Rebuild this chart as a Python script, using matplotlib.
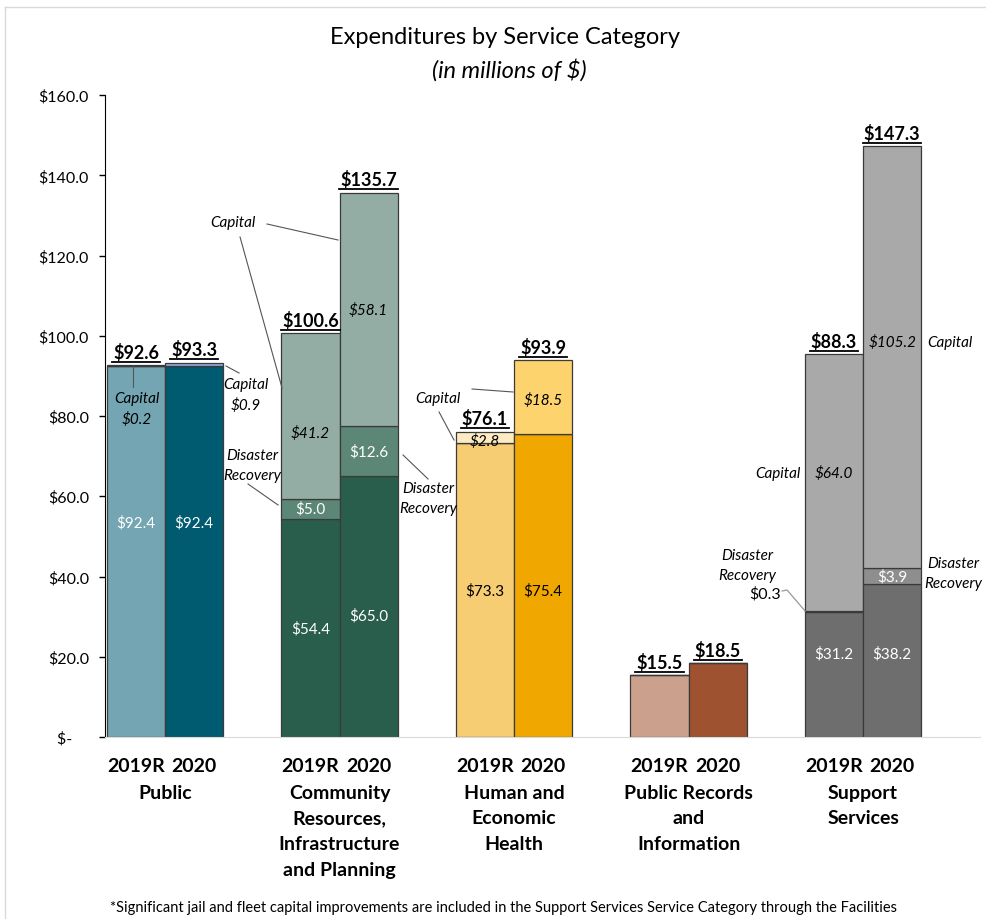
import matplotlib.pyplot as plt
import numpy as np
from matplotlib.lines import Line2D

plt.rcParams['font.family'] = ['Lato', 'DejaVu Sans']

# data (millions of $)
groups = ['Public', 'Community\nResources,\nInfrastructure\nand Planning',
          'Human and\nEconomic\nHealth', 'Public Records\nand\nInformation',
          'Support\nServices']
years = ['2019R', '2020']
base_19 = [92.4, 54.4, 73.3, 15.5, 31.2]
dr_19 = [0.0, 5.0, 0.0, 0.0, 0.3]
cap_19 = [0.2, 41.2, 2.8, 0.0, 64.0]
base_20 = [92.4, 65.0, 75.4, 18.5, 38.2]
dr_20 = [0.0, 12.6, 0.0, 0.0, 3.9]
cap_20 = [0.9, 58.1, 18.5, 0.0, 105.2]
totals_19 = ['$92.6', '$100.6', '$76.1', '$15.5', '$88.3']
totals_20 = ['$93.3', '$135.7', '$93.9', '$18.5', '$147.3']

base_col_19 = ['#74A5B3', '#2A5E4C', '#F6CD72', '#CBA18D', '#6E6E6E']
base_col_20 = ['#005A70', '#2A5E4C', '#F0A800', '#9E5230', '#6E6E6E']
dr_col = ['#5C8777', '#5C8777', '#5C8777', '#5C8777', '#8E8E8E']
cap_col_19 = ['#74A5B3', '#93ADA4', '#FDEBC2', '#CBA18D', '#A9A9A9']
cap_col_20 = ['#8EA9DB', '#93ADA4', '#FDD36E', '#9E5230', '#A9A9A9']
base_txt = ['white', 'white', 'black', None, 'white']

fig = plt.figure(figsize=(9.86, 9.2), dpi=100)
ax = fig.add_axes([105/986, 182/920, 875/986, 642/920])

x = np.arange(len(groups))
w = 1/3
edge = dict(edgecolor='#3a3a3a', linewidth=0.9)
x19 = x - w/2
x20 = x + w/2
b19 = np.array(base_19); d19 = np.array(dr_19); c19 = np.array(cap_19)
b20 = np.array(base_20); d20 = np.array(dr_20); c20 = np.array(cap_20)

ax.bar(x19, b19, w, color=base_col_19, **edge)
ax.bar(x19, d19, w, bottom=b19, color=dr_col, **edge)
ax.bar(x19, c19, w, bottom=b19 + d19, color=cap_col_19, **edge)
ax.bar(x20, b20, w, color=base_col_20, **edge)
ax.bar(x20, d20, w, bottom=b20, color=dr_col, **edge)
ax.bar(x20, c20, w, bottom=b20 + d20, color=cap_col_20, **edge)

ax.set_xlim(-0.344, 4.67)
ax.set_ylim(0, 160)
ax.set_yticks(np.arange(0, 161, 20))
ax.set_yticklabels(['$-    '] + ['$%.1f' % v for v in np.arange(20, 161, 20)], fontsize=11.5)
ax.tick_params(axis='y', length=4, width=1, pad=7.5)
ax.set_xticks([])
for s in ['top', 'right']:
    ax.spines[s].set_visible(False)
ax.spines['bottom'].set_color('#D9D9D9')
ax.spines['left'].set_color('black')

# category labels
for i, g in enumerate(groups):
    ax.text(x19[i], -5.0, years[0], ha='center', va='top', fontsize=14, fontweight='bold')
    ax.text(x20[i], -5.0, years[1], ha='center', va='top', fontsize=14, fontweight='bold')
    ax.text(x[i], -11.6, g, ha='center', va='top', fontsize=14, fontweight='bold',
            linespacing=1.62)

# value labels inside bars
def lab(xx, y, s, color='black', italic=False, size=11):
    ax.text(xx, y, s, ha='center', va='center', color=color, fontsize=size,
            style='italic' if italic else 'normal')

base_y19 = [53.6, b19[1]/2, b19[2]/2, None, 20.9]
base_y20 = [53.6, 30.4, 36.6, None, 20.9]
for i in range(len(groups)):
    if base_txt[i]:
        lab(x19[i], base_y19[i], '$%.1f' % b19[i], base_txt[i])
        lab(x20[i], base_y20[i], '$%.1f' % b20[i], base_txt[i])
lab(x19[1], b19[1] + d19[1]/2, '$%.1f' % d19[1], 'white')
lab(x20[1], b20[1] + d20[1]/2, '$%.1f' % d20[1], 'white')
lab(x20[4], b20[4] + d20[4]/2, '$%.1f' % d20[4], 'white')
lab(x19[1], 76.0, '$%.1f' % c19[1], italic=True)
lab(x20[1], b20[1] + d20[1] + c20[1]/2, '$%.1f' % c20[1], italic=True)
lab(x19[2], 74.0, '$%.1f' % c19[2], italic=True)
lab(x20[2], 84.0, '$%.1f' % c20[2], italic=True)
lab(x19[4], 65.8, '$%.1f' % c19[4], italic=True)
lab(x20[4], 98.6, '$%.1f' % c20[4], italic=True)

# totals
tot_texts = []
tops19 = b19 + d19 + c19
tops20 = b20 + d20 + c20
for i in range(len(groups)):
    for xx, top, s in [(x19[i], tops19[i], totals_19[i]), (x20[i], tops20[i], totals_20[i])]:
        t = ax.annotate(s, (xx, top), xytext=(0, 3), textcoords='offset points',
                        ha='center', va='bottom', fontsize=13, fontweight='bold')
        tot_texts.append(t)

# annotations
it = dict(fontsize=11, style='italic', ha='center', va='center', linespacing=1.5)
lc = dict(color='#555555', linewidth=0.8)
def px(p):
    return (p - 165) / 174.5
def py(p):
    return (738 - p) / 4.0125

ax.text(px(137), py(409), 'Capital\n$0.2', **it)
ax.plot([px(133), px(133)], [py(367), py(388)], **lc)
ax.text(px(246), py(395), 'Capital\n$0.9', **it)
ax.plot([px(226), px(239)], [py(367), py(374)], **lc)

ax.text(px(233), py(223), 'Capital', **it)
ax.plot([px(267), px(338)], [py(225), py(241)], **lc)
ax.plot([px(240), px(282)], [py(238), py(389)], **lc)
ax.text(px(252), py(466), 'Disaster\nRecovery', **it)
ax.plot([px(248), px(278)], [py(485), py(506)], **lc)
ax.text(px(428), py(499), 'Disaster\nRecovery', **it)
ax.plot([px(403), px(428)], [py(456), py(480)], **lc)

ax.text(px(438), py(399), 'Capital', **it)
ax.plot([px(439), px(454)], [py(413), py(441)], **lc)
ax.plot([px(472), px(513)], [py(390), py(393)], **lc)

ax.text(px(778), py(474), 'Capital', **it)
ax.text(px(950), py(343), 'Capital', **it)
ax.text(px(747), py(566), 'Disaster\nRecovery', **it)
ax.text(px(765), py(594), '$0.3', fontsize=11.5, ha='center', va='center')
ax.plot([px(782), px(787), px(805)], [py(592), py(591), py(612)], color='#999999', linewidth=0.9)
ax.text(px(953), py(574), 'Disaster\nRecovery', **it)

# titles
fig.text(505/986, 1 - 38/920, 'Expenditures by Service Category',
         ha='center', va='center', fontsize=17)
fig.text(509/986, 1 - 70/920, '(in millions of $)',
         ha='center', va='center', fontsize=17, style='italic')
fig.text(503/986, 1 - 908/920,
         '*Significant jail and fleet capital improvements are included in the Support Services Service Category through the Facilities',
         ha='center', va='center', fontsize=10.5)

# chart border
fig.add_artist(Line2D([5/986, 5/986], [0, 1 - 8/920], color='#D9D9D9', linewidth=1))
fig.add_artist(Line2D([5/986, 1], [1 - 8/920, 1 - 8/920], color='#D9D9D9', linewidth=1))

# underline the totals
fig.canvas.draw()
r = fig.canvas.get_renderer()
for t in tot_texts:
    bb = t.get_window_extent(r)
    y0 = (bb.y0 - 1) / 920
    fig.add_artist(Line2D([(bb.x0 - 1) / 986, (bb.x1 + 1) / 986], [y0, y0],
                          color='black', linewidth=1.3))

fig.savefig('out.png', dpi=100)
